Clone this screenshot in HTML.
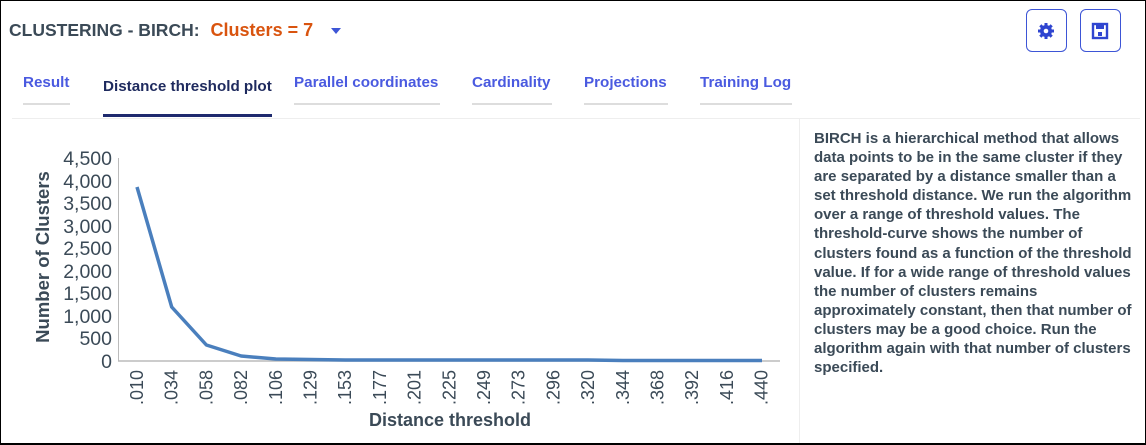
<!DOCTYPE html>
<html><head><meta charset="utf-8"><style>
*{margin:0;padding:0;box-sizing:border-box}
body{width:1146px;height:445px;background:#fff;font-family:"Liberation Sans",sans-serif;position:relative;overflow:hidden}
.frame{position:absolute;left:0;top:0;width:1146px;height:445px;border:1px solid #000;border-bottom:2px solid #000}
.title{position:absolute;left:9px;top:20px;font-size:17.5px;font-weight:bold;color:#3b4a57}
.title .c{color:#d9540f;margin-left:11px;font-size:18px}
.caret{position:absolute;left:331px;top:28px;width:0;height:0;border-left:5px solid transparent;border-right:5px solid transparent;border-top:6px solid #3d55d6}
.btn{position:absolute;top:9px;width:41px;height:43px;border:1.5px solid #3d55d6;border-radius:6px}
.tab{position:absolute;top:74px;font-size:15.2px;font-weight:bold;color:#4a5ae0}
.ul{position:absolute;top:103px;height:2px;background:#ddd}
.panel{position:absolute;left:799px;top:118px;width:341px;height:325px;border-left:1px solid #eee;border-top:1px solid #eee}
.panel p{position:absolute;left:14px;top:10px;white-space:nowrap;font-size:15px;line-height:19.1px;font-weight:bold;color:#3b4a57}
</style></head><body>
<div class="frame"></div>
<div class="title">CLUSTERING - BIRCH:<span class="c">Clusters = 7</span></div>
<div class="caret"></div>
<div class="btn" style="left:1026px"><svg width="38" height="40" viewBox="0 0 38 40"><g transform="translate(19,21)" fill="#2f45d0"><circle r="6"/><g stroke="#2f45d0" stroke-width="3"><line x1="0" y1="-8" x2="0" y2="8"/><line x1="-8" y1="0" x2="8" y2="0"/><line x1="-5.7" y1="-5.7" x2="5.7" y2="5.7"/><line x1="-5.7" y1="5.7" x2="5.7" y2="-5.7"/></g><circle r="2.3" fill="#fff"/></g></svg></div>
<div class="btn" style="left:1080px"><svg width="38" height="40" viewBox="0 0 38 40"><rect x="12" y="14" width="14" height="14" fill="none" stroke="#2f45d0" stroke-width="2.4"/><rect x="15" y="14" width="8" height="5" fill="#2f45d0"/><rect x="17" y="22" width="4" height="4" fill="#2f45d0"/></svg></div>
<div class="tab" style="left:23px">Result</div><div class="ul" style="left:23px;width:47px"></div>
<div class="tab" style="left:103px;top:78px;color:#1e2a5e">Distance threshold plot</div><div class="ul" style="left:103px;width:169px;height:3px;top:114px;background:#1e2a6e"></div>
<div class="tab" style="left:294px">Parallel coordinates</div><div class="ul" style="left:294px;width:146px"></div>
<div class="tab" style="left:472px">Cardinality</div><div class="ul" style="left:472px;width:80px"></div>
<div class="tab" style="left:584px">Projections</div><div class="ul" style="left:584px;width:84px"></div>
<div class="tab" style="left:700px">Training Log</div><div class="ul" style="left:700px;width:92px"></div>
<div style="position:absolute;left:12px;top:118px;width:787px;height:1px;background:#eee"></div>
<svg style="position:absolute;left:0;top:0" width="800" height="445">
<g font-family="Liberation Sans" font-size="19.5" fill="#3b4a57" text-anchor="end">
<text x="112" y="165">4,500</text><text x="112" y="188">4,000</text><text x="112" y="210">3,500</text><text x="112" y="233">3,000</text><text x="112" y="255">2,500</text><text x="112" y="278">2,000</text><text x="112" y="300">1,500</text><text x="112" y="323">1,000</text><text x="112" y="345">500</text><text x="112" y="368">0</text>
</g>
<line x1="118.5" y1="158" x2="118.5" y2="361" stroke="#bbb"/>
<line x1="118" y1="361" x2="780" y2="361" stroke="#bbb" stroke-width="1.5"/>
<g font-family="Liberation Sans" font-size="18" fill="#3b4a57" text-anchor="end">
<text transform="translate(143,370) rotate(-90)">.010</text>
<text transform="translate(177.7,370) rotate(-90)">.034</text>
<text transform="translate(212.4,370) rotate(-90)">.058</text>
<text transform="translate(247.1,370) rotate(-90)">.082</text>
<text transform="translate(281.8,370) rotate(-90)">.106</text>
<text transform="translate(316.5,370) rotate(-90)">.129</text>
<text transform="translate(351.2,370) rotate(-90)">.153</text>
<text transform="translate(385.9,370) rotate(-90)">.177</text>
<text transform="translate(420.6,370) rotate(-90)">.201</text>
<text transform="translate(455.3,370) rotate(-90)">.225</text>
<text transform="translate(490,370) rotate(-90)">.249</text>
<text transform="translate(524.7,370) rotate(-90)">.273</text>
<text transform="translate(559.4,370) rotate(-90)">.296</text>
<text transform="translate(594.1,370) rotate(-90)">.320</text>
<text transform="translate(628.8,370) rotate(-90)">.344</text>
<text transform="translate(663.5,370) rotate(-90)">.368</text>
<text transform="translate(698.2,370) rotate(-90)">.392</text>
<text transform="translate(732.9,370) rotate(-90)">.416</text>
<text transform="translate(767.6,370) rotate(-90)">.440</text>
</g>
<text x="450" y="426" font-family="Liberation Sans" font-size="18" font-weight="bold" fill="#3b4a57" text-anchor="middle">Distance threshold</text>
<text transform="translate(49,257) rotate(-90)" font-family="Liberation Sans" font-size="18.5" font-weight="bold" fill="#3b4a57" text-anchor="middle">Number of Clusters</text>
<polyline fill="none" stroke="#4a7fbd" stroke-width="3.5" stroke-linejoin="round" points="137,187 171.7,307 206.4,345 241.1,356 275.8,359 310.5,359.5 345.2,360 379.9,360 414.6,360 449.3,360 484,360 518.7,360 553.4,360 588.1,360 622.8,360.5 657.5,360.5 692.2,360.5 726.9,360.5 762,360.5"/>
</svg>
<div class="panel"><p>BIRCH is a hierarchical method that allows<br>data points to be in the same cluster if they<br>are separated by a distance smaller than a<br>set threshold distance. We run the algorithm<br>over a range of threshold values. The<br>threshold-curve shows the number of<br>clusters found as a function of the threshold<br>value. If for a wide range of threshold values<br>the number of clusters remains<br>approximately constant, then that number of<br>clusters may be a good choice. Run the<br>algorithm again with that number of clusters<br>specified.</p></div>
</body></html>
